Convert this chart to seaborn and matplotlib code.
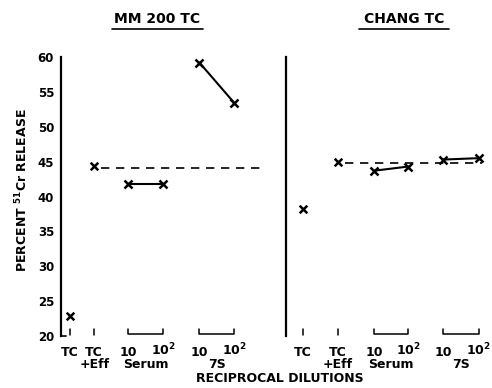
import matplotlib
matplotlib.use("Agg")
import matplotlib.pyplot as plt
import seaborn as sns
import pandas as pd

# values (percent 51Cr release)
panels = ["MM 200 TC", "CHANG TC"]
tc_only = [22.8, 38.2]
tc_eff = [44.4, 44.9]
serum = [[41.8, 41.8], [43.7, 44.3]]
s7 = [[59.2, 53.4], [45.3, 45.5]]
baseline = [44.1, 44.8]
dilution_labels = ["10", "10$^2$"]
group_labels = ["Serum", "7S"]

# layout: x positions (axis units) of the categories in each panel
x_tc = [0.26, 0.49]
x_eff = [0.96, 1.51]
x_serum = [[1.95, 2.96], [2.55, 3.54]]
x_7s = [[4.0, 5.01], [4.55, 5.57]]
x_dash_end = [5.83, 5.68]

sns.set_style("white")
plt.rcParams["font.family"] = ["DejaVu Sans"]
plt.rcParams["font.weight"] = "bold"
plt.rcParams["text.color"] = "black"
plt.rcParams["axes.labelcolor"] = "black"
plt.rcParams["xtick.color"] = "black"
plt.rcParams["ytick.color"] = "black"
plt.rcParams["axes.edgecolor"] = "black"

fig = plt.figure(figsize=(4.92, 3.88), dpi=100)
bottom, top = 0.134, 0.853
axes = [fig.add_axes([0.124, bottom, 0.415, top - bottom]),
        fig.add_axes([0.581, bottom, 0.415, top - bottom])]

fs = 9
for i, ax in enumerate(axes):
    ax.set_xlim(0, 5.9)
    ax.set_ylim(20, 60)
    for s in ["top", "right", "bottom"]:
        ax.spines[s].set_visible(False)
    ax.spines["left"].set_linewidth(1.6)
    ax.set_xticks([])
    if i == 0:
        ax.set_yticks(range(20, 61, 5))
        ax.tick_params(axis="y", direction="out", length=4, width=1.2, labelsize=8.5, pad=1)
        ax.plot([0, 0.15], [20, 20], color="k", lw=1.2, clip_on=False)
    else:
        ax.set_yticks([])
    ax.set_facecolor("none")

    # dashed control level
    ax.plot([x_eff[i] + 0.2, x_dash_end[i]], [baseline[i]] * 2, color="k",
            lw=1.2, dashes=(5, 4))

    # single points
    pts = pd.DataFrame({"x": [x_tc[i], x_eff[i]], "y": [tc_only[i], tc_eff[i]]})
    sns.scatterplot(data=pts, x="x", y="y", marker="x", s=30, color="k",
                    linewidth=1.8, ax=ax, clip_on=False)

    # dilution pairs
    for xs, ys in [(x_serum[i], serum[i]), (x_7s[i], s7[i])]:
        seg = pd.DataFrame({"x": xs, "y": ys})
        sns.lineplot(data=seg, x="x", y="y", color="k", lw=1.5, marker="x",
                     markersize=5.5, markeredgewidth=1.8, markeredgecolor="k",
                     ax=ax, clip_on=False)

    ax.set_xlabel("")
    ax.set_ylabel("")

    # bracket style x ticks
    kw = dict(color="k", lw=1.1, clip_on=False)
    ax.plot([x_tc[i], x_tc[i]], [20.2, 21.0], **kw)
    ax.plot([x_eff[i], x_eff[i]], [20.2, 21.0], **kw)
    for xs in [x_serum[i], x_7s[i]]:
        ax.plot([xs[0], xs[0], xs[1], xs[1]], [21.0, 20.3, 20.3, 21.0], **kw)

    ty = -0.035
    tk = dict(transform=ax.get_xaxis_transform(), ha="center", va="top",
              fontsize=fs, fontweight="bold")
    ax.text(x_tc[i], ty, "TC", **tk)
    ax.text(x_eff[i], ty, "TC\n+Eff", linespacing=0.95, **tk)
    for xs, g in [(x_serum[i], group_labels[0]), (x_7s[i], group_labels[1])]:
        ax.text(xs[0], ty, dilution_labels[0], **tk)
        ax.text(xs[1], ty + 0.015, dilution_labels[1], **tk)
        ax.text((xs[0] + xs[1]) / 2, ty - 0.045, g, **tk)

# panel titles with underlines
title_x = [157, 404]
for name, cx, (x0, x1) in zip(panels, title_x, [(112, 203), (359, 449)]):
    fig.text(cx / 492, 1 - 19 / 388, name, ha="center", va="center",
             fontsize=10, fontweight="bold")
    fig.add_artist(plt.Line2D([x0 / 492, x1 / 492], [1 - 28.5 / 388] * 2,
                              color="k", lw=1.2))

fig.text(22 / 492, 1 - 190 / 388, "PERCENT $^{\\bf 51}$Cr RELEASE", rotation=90,
         ha="center", va="center", fontsize=9, fontweight="bold")
fig.text(280 / 492, 1 - 379 / 388, "RECIPROCAL DILUTIONS", ha="center",
         va="center", fontsize=9, fontweight="bold")

fig.savefig("out.png", dpi=100, facecolor="white")
